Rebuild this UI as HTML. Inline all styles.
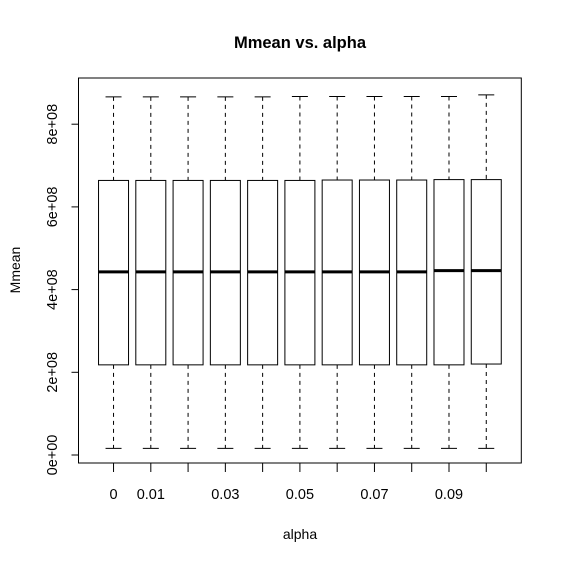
<!DOCTYPE html>
<html><head><meta charset="utf-8"><style>
body{margin:0;background:#fff}
svg{display:block;font-family:"Liberation Sans",Arial,sans-serif}
</style></head><body>
<svg id="c" width="562" height="561" xmlns="http://www.w3.org/2000/svg"></svg>
<script>
const categories=["0","0.01","0.02","0.03","0.04","0.05","0.06","0.07","0.08","0.09","0.1"];
const shownLabels=["0","0.01","","0.03","","0.05","","0.07","","0.09",""];
const whiskerLow=[0.16e8,0.16e8,0.16e8,0.16e8,0.16e8,0.16e8,0.16e8,0.16e8,0.16e8,0.16e8,0.16e8];
const q1=[2.18e8,2.18e8,2.18e8,2.18e8,2.18e8,2.18e8,2.18e8,2.18e8,2.18e8,2.18e8,2.2e8];
const medians=[4.43e8,4.43e8,4.43e8,4.43e8,4.43e8,4.43e8,4.43e8,4.43e8,4.43e8,4.46e8,4.46e8];
const q3=[6.64e8,6.64e8,6.64e8,6.64e8,6.64e8,6.64e8,6.65e8,6.65e8,6.65e8,6.66e8,6.66e8];
const whiskerHigh=[8.66e8,8.66e8,8.66e8,8.66e8,8.66e8,8.67e8,8.67e8,8.67e8,8.67e8,8.67e8,8.71e8];
const yTicks=[0,2e8,4e8,6e8,8e8];
const yTickLabels=["0e+00","2e+08","4e+08","6e+08","8e+08"];

const L=78.5,R=521.3,T=78,B=463;
const xs=i=>L+(i+1-0.06)*(R-L)/11.88;
const ys=v=>455-v*(455-372.3)/2e8;
const svg=document.getElementById('c');
const NS="http://www.w3.org/2000/svg";
function mk(tag,attrs,parent){const e=document.createElementNS(NS,tag);for(const k in attrs)e.setAttribute(k,attrs[k]);(parent||svg).appendChild(e);return e;}

const frame=mk('rect',{x:L,y:T,width:R-L,height:B-T,fill:'none',stroke:'#000','stroke-width':1});



const title=mk('text',{x:300,y:48,'text-anchor':'middle','font-size':16.5,'font-weight':'bold'});
title.textContent='Mmean vs. alpha';



const xt=mk('text',{x:300,y:539,'text-anchor':'middle','font-size':14});
xt.textContent='alpha';



const yt=mk('text',{x:20,y:270,'text-anchor':'middle','font-size':14,transform:'rotate(-90 20 270)'});
yt.textContent='Mmean';



yTicks.forEach((v,i)=>{
  const y=ys(v);
  const t=mk('line',{x1:L-7,x2:L,y1:y,y2:y,stroke:'#000'});
  
  
  const lb=mk('text',{x:57,y:y,'text-anchor':'middle','font-size':14.5,transform:`rotate(-90 57 ${y})`});
  lb.textContent=yTickLabels[i];
  
  
});

categories.forEach((c,i)=>{
  const x=xs(i),hw=15,cw=8;
  const g=mk('g',{});
  
  
  mk('line',{x1:x,x2:x,y1:ys(whiskerHigh[i]),y2:ys(q3[i]),stroke:'#000','stroke-dasharray':'4,4'},g);
  mk('line',{x1:x,x2:x,y1:ys(q1[i]),y2:ys(whiskerLow[i]),stroke:'#000','stroke-dasharray':'4,4'},g);
  mk('line',{x1:x-cw,x2:x+cw,y1:ys(whiskerHigh[i]),y2:ys(whiskerHigh[i]),stroke:'#000'},g);
  mk('line',{x1:x-cw,x2:x+cw,y1:ys(whiskerLow[i]),y2:ys(whiskerLow[i]),stroke:'#000'},g);
  mk('rect',{x:x-hw,y:ys(q3[i]),width:2*hw,height:ys(q1[i])-ys(q3[i]),fill:'#fff',stroke:'#000'},g);
  mk('line',{x1:x-hw,x2:x+hw,y1:ys(medians[i]),y2:ys(medians[i]),stroke:'#000','stroke-width':3},g);
  const t=mk('line',{x1:x,x2:x,y1:B,y2:B+9,stroke:'#000'});
  
  
  if(shownLabels[i]){
    const lb=mk('text',{x:x,y:499,'text-anchor':'middle','font-size':14.5});
    lb.textContent=shownLabels[i];
    
    
  }
});
</script>
</body></html>
